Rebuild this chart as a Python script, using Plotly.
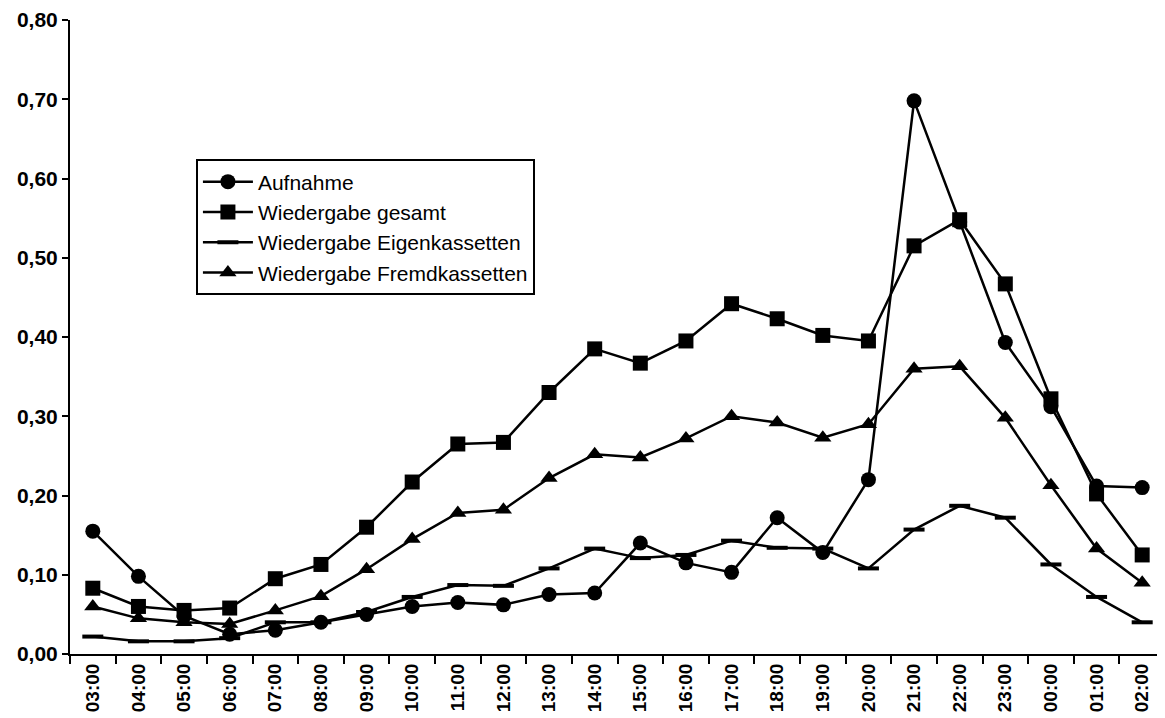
import plotly.graph_objects as go

hours = ["03:00", "04:00", "05:00", "06:00", "07:00", "08:00", "09:00", "10:00",
         "11:00", "12:00", "13:00", "14:00", "15:00", "16:00", "17:00", "18:00",
         "19:00", "20:00", "21:00", "22:00", "23:00", "00:00", "01:00", "02:00"]

aufnahme = [0.155, 0.098, 0.048, 0.025, 0.030, 0.040, 0.050, 0.060,
            0.065, 0.062, 0.075, 0.077, 0.140, 0.115, 0.103, 0.172,
            0.128, 0.220, 0.698, 0.545, 0.393, 0.312, 0.212, 0.210]

gesamt = [0.083, 0.060, 0.055, 0.058, 0.095, 0.113, 0.160, 0.217,
          0.265, 0.267, 0.330, 0.385, 0.367, 0.395, 0.442, 0.423,
          0.402, 0.395, 0.515, 0.548, 0.467, 0.322, 0.202, 0.125]

eigen = [0.022, 0.016, 0.016, 0.020, 0.040, 0.040, 0.053, 0.072,
         0.087, 0.086, 0.108, 0.133, 0.121, 0.125, 0.143, 0.134,
         0.133, 0.108, 0.157, 0.187, 0.172, 0.113, 0.072, 0.040]

fremd = [0.060, 0.045, 0.040, 0.038, 0.055, 0.073, 0.107, 0.145,
         0.178, 0.182, 0.222, 0.252, 0.248, 0.272, 0.300, 0.292,
         0.273, 0.290, 0.360, 0.363, 0.298, 0.213, 0.133, 0.090]

series = [
    ("Aufnahme", aufnahme, dict(symbol="circle", size=15)),
    ("Wiedergabe gesamt", gesamt, dict(symbol="square", size=15)),
    ("Wiedergabe Eigenkassetten", eigen, dict(symbol="line-ew", size=15,
                                               line=dict(width=4, color="black"))),
    ("Wiedergabe Fremdkassetten", fremd, dict(symbol="triangle-up", size=15)),
]

FONT = "Liberation Sans, Arial, sans-serif"

fig = go.Figure()
for i, (name, vals, mk) in enumerate(series):
    fig.add_trace(go.Scatter(
        x=hours, y=vals, name=name, mode="lines+markers",
        legendgroup=f"g{i}",
        line=dict(color="black", width=2.5),
        marker=dict(color="black", **mk),
    ))

fig.update_layout(
    width=1165, height=718,
    paper_bgcolor="white", plot_bgcolor="white",
    margin=dict(l=62, r=8, t=12, b=72),
    separators=",.",
    font=dict(family=FONT, color="black"),
    showlegend=True,
    legend=dict(
        x=0.115, y=0.78, xanchor="left", yanchor="top",
        bgcolor="white", bordercolor="black", borderwidth=2,
        font=dict(size=21, family=FONT),
        traceorder="grouped", tracegroupgap=0, itemwidth=50,
    ),
    xaxis=dict(
        type="category", showgrid=False, showline=True, linecolor="black",
        linewidth=2, ticks="outside", ticklen=8, tickwidth=2, tickcolor="black",
        tickson="boundaries", tickangle=-90,
        tickfont=dict(size=19, family=FONT, weight="bold"),
        range=[-0.5, 23.5], automargin=False,
    ),
    yaxis=dict(
        range=[0, 0.8], dtick=0.1, tickformat=".2f", showgrid=False,
        showline=True, linecolor="black", linewidth=2, ticks="outside",
        ticklen=6, tickwidth=2, tickcolor="black", zeroline=False,
        tickfont=dict(size=21, family=FONT, weight="bold"), automargin=False,
    ),
)

fig.write_html("out.html")
